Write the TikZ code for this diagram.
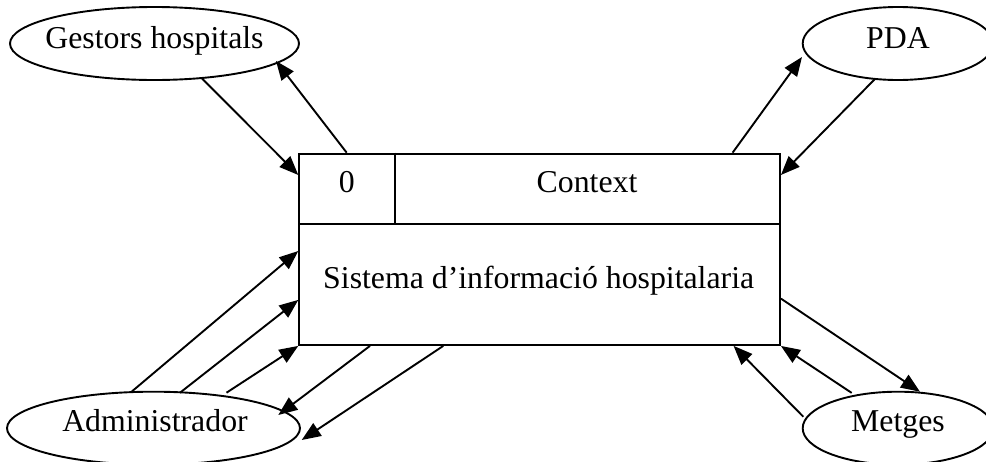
\documentclass[tikz,border=0pt]{standalone}
\usepackage{fontspec}
\setmainfont{Liberation Serif}
\usetikzlibrary{arrows.meta,calc,shapes.geometric}
\begin{document}
\begin{tikzpicture}[x=0.5pt,y=-0.5pt,
  line width=0.95pt,
  font=\fontsize{15.9}{19}\selectfont,
  actor/.style={draw, ellipse, inner sep=0pt, minimum height=36.5pt},
  flow/.style={-{Triangle[length=9.5pt,width=7.5pt]}},
]
\useasboundingbox (0,0) rectangle (986,461);
\clip (0,0) rectangle (986,461);

% central process box
\node[draw, rectangle, inner sep=0pt, minimum width=240.35pt,
      minimum height=95.65pt, anchor=north west] (sys) at (298.3,152.7) {};
\coordinate (divL) at ($(sys.north west)+(0,71.3)$);
\coordinate (divR) at ($(sys.north east)+(0,71.3)$);
\coordinate (colT) at ($(sys.north west)+(96.7,0)$);
\coordinate (colB) at ($(sys.north west)+(96.7,71.3)$);
\draw (divL) -- (divR);
\draw (colT) -- (colB);
\node[anchor=base] (num) at (346.7,192.3) {0};
\node[anchor=base] (ctx) at (587,192.3) {Context};
\node[anchor=base] (name) at (538.7,288.3) {Sistema d’informació hospitalaria};

% external entities
\node[actor, minimum width=144.5pt] (gest) at (154.5,43.5) {};
\node[actor, minimum width=95.3pt] (pda) at (898,43.5) {};
\node[actor, minimum width=146.5pt] (admin) at (153.5,428.2) {};
\node[actor, minimum width=95.3pt] (met) at (898,428.2) {};
\node[anchor=base] (gestT) at ($(gest)+(0,4.8)$) {Gestors hospitals};
\node[anchor=base] (pdaT) at ($(pda)+(0,4.8)$) {PDA};
\node[anchor=base] (adminT) at ($(admin)+(1.5,2.8)$) {Administrador};
\node[anchor=base] (metT) at ($(met)+(0,2.8)$) {Metges};

% data flows
\draw[flow] ($(gest)+(47.5,35)$) -- ($(sys.north west)+(0,22.3)$);
\draw[flow] ($(sys.north west)+(48.4,0)$) -- ($(gest)+(121.5,17.5)$);
\draw[flow] ($(sys.north east)+(-48.3,0)$) -- ($(pda)+(-96,13.5)$);
\draw[flow] ($(pda)+(-23,35.4)$) -- ($(sys.north east)+(0,22.3)$);

\draw[flow] ($(admin)+(-22.5,-36)$) -- ($(sys.north west)+(0,98.3)$);
\draw[flow] ($(admin)+(26.5,-35.5)$) -- ($(sys.south west)+(0,-46)$);
\draw[flow] ($(admin)+(73,-35.5)$) -- (sys.south west);
\draw[flow] ($(sys.south west)+(71.7,0)$) -- ($(admin)+(124.8,-13.2)$);
\draw[flow] ($(sys.south west)+(145,0)$) -- ($(admin)+(148.2,11.8)$);

\draw[flow] ($(sys.south east)+(0,-47.3)$) -- ($(met)+(22,-36.5)$);
\draw[flow] ($(met)+(-46.3,-35.3)$) -- (sys.south east);
\draw[flow] ($(met)+(-94.7,-11.5)$) -- ($(sys.south east)+(-47.3,0)$);
\end{tikzpicture}
\end{document}
